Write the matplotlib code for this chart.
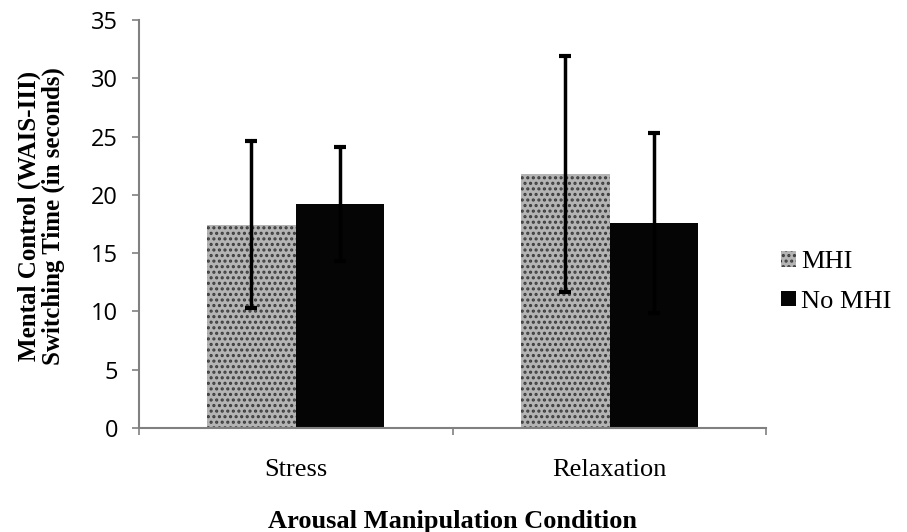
import numpy as np
import matplotlib
matplotlib.use("Agg")
import matplotlib.pyplot as plt
from matplotlib.patches import Patch

# group means and standard deviations
conditions = ["Stress", "Relaxation"]
mhi_mean = [17.45, 21.8]
mhi_sd = [7.15, 10.1]
no_mhi_mean = [19.2, 17.6]
no_mhi_sd = [4.9, 7.7]

serif = "Liberation Serif"
plt.rcParams["hatch.linewidth"] = 1.5

fig = plt.figure(figsize=(9.07, 5.32), dpi=100)
ax = fig.add_axes([0.153, 0.1955, 0.692, 0.767])

x = np.arange(len(conditions))
w = 0.283

ax.bar(x - w / 2, mhi_mean, w, color="#b4b4b4", edgecolor="#3c3c3c",
       linewidth=0, hatch="...", zorder=2)
ax.bar(x + w / 2, no_mhi_mean, w, color="#050505", edgecolor="none", zorder=2)

ax.errorbar(x - w / 2, mhi_mean, yerr=mhi_sd, fmt="none", ecolor="black",
            elinewidth=2.5, capsize=4.5, capthick=3, zorder=3)
ax.errorbar(x + w / 2, no_mhi_mean, yerr=no_mhi_sd, fmt="none", ecolor="black",
            elinewidth=2.5, capsize=4.5, capthick=3, zorder=3)

ax.set_xlim(-0.5, 1.5)
ax.set_ylim(0, 35)
ax.set_yticks(range(0, 36, 5))
ax.tick_params(axis="y", direction="out", length=5, width=1.2, color="#808080",
               labelsize=17, pad=10)
for lab in ax.get_yticklabels():
    lab.set_fontfamily("Open Sans")

# category boundary ticks, labels centred on the groups
ax.set_xticks([-0.5, 0.5, 1.5])
ax.set_xticklabels([])
ax.tick_params(axis="x", direction="out", length=5, width=1.2, color="#808080")
ax.set_xticks(x, minor=True)
ax.set_xticklabels(conditions, minor=True, fontsize=19, fontfamily=serif)
ax.tick_params(axis="x", which="minor", length=0, pad=22)

for s in ["top", "right"]:
    ax.spines[s].set_visible(False)
for s in ["left", "bottom"]:
    ax.spines[s].set_color("#808080")
    ax.spines[s].set_linewidth(1.5)

ax.set_ylabel("Mental Control (WAIS-III)\nSwitching Time (in seconds)",
              fontsize=18, fontweight="bold", fontfamily=serif,
              linespacing=1.0, va="center")
ax.yaxis.set_label_coords(-0.155, 0.52)
ax.set_xlabel("Arousal Manipulation Condition", fontsize=19,
              fontweight="bold", fontfamily=serif, va="center")
ax.xaxis.set_label_coords(0.5, -0.23)

handles = [Patch(facecolor="#b4b4b4", hatch="...", edgecolor="#3c3c3c",
                 linewidth=0),
           Patch(facecolor="#050505", edgecolor="none")]
fig.legend(handles, ["MHI", "No MHI"], loc="center left",
           bbox_to_anchor=(0.835, 0.47), frameon=False,
           prop={"family": serif, "size": 19}, handlelength=0.55,
           handleheight=0.55, handletextpad=0.2, labelspacing=0.65)

fig.savefig("out.png", dpi=100)
